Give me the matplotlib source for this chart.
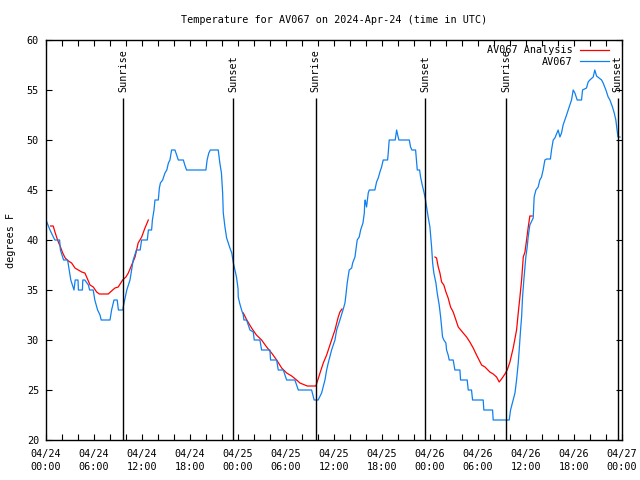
import matplotlib
matplotlib.use("Agg")
import matplotlib.pyplot as plt
from matplotlib.ticker import MultipleLocator

# ---- data (hours since 2024-04-24 00:00 UTC, degrees F) ----
obs_hours = [0.0, 0.5, 1.1, 1.7, 1.8, 2.2, 2.7, 2.9, 3.1, 3.5, 3.65, 4.0, 4.05, 4.55, 4.6, 4.85,
             5.3, 5.45, 5.9, 6.1, 6.45, 6.75, 6.9, 8.0, 8.2, 8.5, 8.9, 9.05, 9.6, 9.7, 10.1, 10.5,
             10.9, 11.3, 11.77, 11.95, 12.66, 12.8, 13.2, 13.3, 13.5, 13.62, 14.04, 14.17, 14.3,
             14.58, 14.87, 15.1, 15.3, 15.49, 15.7, 16.12, 16.33, 16.54, 17.17, 17.35, 17.57,
             19.99, 20.14, 20.35, 20.54, 21.53, 21.73, 21.93, 22.08, 22.16, 22.37, 22.58, 22.78,
             22.99, 23.22, 23.42, 23.62, 23.81, 24.01, 24.03, 24.2, 24.45, 24.66, 24.74, 25.07,
             25.29, 25.5, 25.91, 26.03, 26.74, 26.95, 27.99, 28.07, 28.83, 29.03, 29.66, 30.08,
             31.11, 31.54, 33.2, 33.52, 34.02, 34.45, 34.87, 35.08, 35.28, 35.7, 36.12, 36.33,
             36.74, 37.16, 37.37, 37.49, 37.65, 37.9, 38.21, 38.33, 38.62, 38.74, 38.87, 38.9,
             39.15, 39.33, 39.62, 39.79, 39.84, 39.9, 40.07, 40.28, 40.41, 41.11, 41.32, 41.53,
             41.74, 41.95, 42.15, 42.7, 42.78, 42.9, 43.65, 43.83, 43.96, 44.11, 45.41, 45.57,
             45.74, 46.2, 46.33, 46.41, 46.7, 46.82, 47.03, 47.24, 47.4, 47.57, 47.77, 47.99,
             48.2, 48.33, 48.48, 48.74, 48.9, 49.15, 49.33, 49.45, 49.57, 49.73, 49.99, 50.07,
             50.27, 50.4, 50.9, 51.11, 51.74, 51.82, 52.65, 52.78, 53.19, 53.32, 54.65, 54.73,
             55.82, 55.9, 57.9, 58.07, 58.4, 58.62, 58.82, 59.03, 59.15, 59.32, 59.45, 59.57,
             59.73, 59.98, 60.15, 60.27, 60.48, 60.9, 61.02, 61.24, 61.52, 61.73, 61.94, 62.14,
             62.36, 62.56, 63.05, 63.19, 63.4, 63.61, 64.02, 64.24, 64.44, 64.64, 64.86, 65.07,
             65.27, 65.48, 65.69, 65.9, 66.11, 66.4, 66.94, 67.07, 67.56, 67.77, 67.98, 68.4,
             68.6, 68.82, 69.45, 69.64, 69.99, 70.27, 70.49, 70.81, 71.03, 71.23, 71.38, 71.5,
             71.75]
obs_temps = [42, 41, 40, 40, 39, 38, 38, 37, 36, 35, 36, 36, 35, 35, 36, 36,
             35.5, 35, 35, 34, 33, 32.5, 32, 32, 33, 34, 34, 33, 33, 33.5, 35, 36,
             38, 39, 39, 40, 40, 41, 41, 42, 43, 44, 44, 45.2, 45.7,
             46, 46.7, 47, 47.7, 48, 49, 49, 48.5, 48, 48, 47.5, 47,
             47, 48, 48.7, 49, 49, 47.7, 46.7, 44.7, 42.7, 41.3, 40.2, 39.7,
             39.2, 38.7, 37.7, 37, 36.3, 35.1, 34.3, 33.7, 33, 32.5, 32, 32,
             31.5, 31, 30.8, 30, 30, 29, 29, 28, 28, 27, 27, 26,
             26, 25, 25, 24, 24, 24.7, 26, 27, 27.7, 29, 30, 31,
             32, 33.1, 33.7, 34.5, 35.7, 37, 37.2, 37.7, 38.3, 39, 39.7, 40,
             40.3, 41, 41.7, 42.7, 43.7, 44, 43.3, 44.7, 45, 45, 45.8, 46.2,
             46.8, 47.3, 48, 48, 48.7, 50, 50, 51, 50.5, 50, 50, 49.3,
             49, 49, 47.8, 47, 47, 46.3, 45.5, 44.8, 44.2, 43.3, 42.3, 41.3,
             39.3, 37.7, 36.7, 35.7, 34.7, 33.5, 32.3, 31.3, 30.3, 30, 29.7, 29,
             28.5, 28, 28, 27, 27, 26, 26, 25, 25, 24, 24, 23,
             23, 22, 22, 23, 24, 24.7, 26, 27.7, 29, 31, 32.3, 34.3,
             36, 38.3, 39.3, 40.3, 41.5, 42.2, 44.3, 45, 45.3, 46, 46.3, 47,
             48, 48.1, 48.1, 49, 50, 50.2, 51, 50.3, 50.7, 51.5, 52, 52.5,
             53, 53.5, 54, 55, 54.7, 54, 54, 55, 55.2, 55.8, 56, 56.3,
             57, 56.4, 56, 55.7, 55, 54.3, 54, 53.3, 52.7, 52, 51, 50.3,
             50.3]

ana1_hours = [0.58, 0.9, 1.12, 1.32, 1.54, 1.81, 2.09, 2.4, 2.8, 3.2, 3.62, 4.04, 4.46, 4.86,
              5.08, 5.5, 5.91, 6.33, 6.67, 7.79, 8.05, 8.62, 9.03, 9.58, 9.99, 10.29, 10.71,
              11.13, 11.52, 11.96, 12.37, 12.79]
ana1_temps = [41.4, 41.4, 40.8, 40.3, 39.8, 39.3, 38.7, 38.2, 37.9, 37.7, 37.2, 37.0, 36.8, 36.7,
              36.3, 35.5, 35.3, 34.8, 34.6, 34.6, 34.8, 35.2, 35.3, 36.0, 36.3, 36.7, 37.5,
              38.3, 39.7, 40.3, 41.2, 42.0]
ana2_hours = [24.66, 25.1, 25.7, 26.3, 26.95, 27.58, 28.2, 28.83, 29.46, 30.08, 30.71, 31.32,
              31.74, 32.66, 33.74, 34.25, 34.66, 35.08, 35.7, 36.12, 36.53, 36.74, 37.0]
ana2_temps = [32.7, 32.0, 31.2, 30.5, 30.0, 29.3, 28.7, 28.0, 27.2, 26.7, 26.4, 26.0,
              25.7, 25.4, 25.4, 26.7, 27.7, 28.5, 30.0, 31.0, 32.3, 32.8, 33.1]
ana3_hours = [48.62, 48.82, 49.03, 49.24, 49.45, 49.73, 49.99, 50.27, 50.57, 50.9, 51.24, 51.53,
              51.74, 52.15, 52.57, 52.98, 53.4, 53.82, 54.45, 54.87, 55.48, 55.9, 56.32, 56.65,
              56.94, 57.37, 57.65, 57.99, 58.4, 58.82, 59.03, 59.24, 59.45, 59.66, 59.87, 60.07,
              60.28, 60.48, 60.77]
ana3_temps = [38.3, 38.2, 37.3, 36.7, 35.8, 35.5, 34.8, 34.2, 33.3, 32.8, 32.0, 31.3,
              31.1, 30.7, 30.3, 29.8, 29.2, 28.5, 27.5, 27.3, 26.8, 26.6, 26.3, 25.8,
              26.1, 26.6, 27.0, 27.8, 29.2, 31.0, 32.7, 34.3, 36.0, 38.3, 38.8, 40.0,
              41.3, 42.4, 42.4]

sun_hours = [9.66, 23.41, 33.7, 47.43, 57.55, 71.44]
sun_labels = ["Sunrise", "Sunset", "Sunrise", "Sunset", "Sunrise", "Sunset"]

xtick_hours = [0, 6, 12, 18, 24, 30, 36, 42, 48, 54, 60, 66, 72]
xtick_labels = ["04/24\n00:00", "04/24\n06:00", "04/24\n12:00", "04/24\n18:00",
                "04/25\n00:00", "04/25\n06:00", "04/25\n12:00", "04/25\n18:00",
                "04/26\n00:00", "04/26\n06:00", "04/26\n12:00", "04/26\n18:00",
                "04/27\n00:00"]
ytick_vals = [20, 25, 30, 35, 40, 45, 50, 55, 60]

title = "Temperature for AV067 on 2024-Apr-24 (time in UTC)"

# ---- plot ----
FS = 7.3
plt.rcParams['font.family'] = ['DejaVu Sans Mono']
plt.rcParams['font.size'] = FS

fig = plt.figure(figsize=(6.4, 4.8), dpi=100)
ax = fig.add_axes([46/640, 1-440/480, 576/640, 400/480])

red = '#ff0000'
blue = '#0f80f0'
lw = 0.9

ax.plot(ana1_hours, ana1_temps, color=red, lw=lw, label='AV067 Analysis')
ax.plot(ana2_hours, ana2_temps, color=red, lw=lw)
ax.plot(ana3_hours, ana3_temps, color=red, lw=lw)
ax.plot(obs_hours, obs_temps, color=blue, lw=lw, label='AV067')

for h, lab in zip(sun_hours, sun_labels):
    ax.vlines(h, 20, 54.2, color='black', lw=1.0)
    ax.text(h, 54.75, lab, rotation=90, ha='center', va='bottom', fontsize=FS, clip_on=False)

ax.set_xlim(0, 72)
ax.set_ylim(20, 60)
ax.set_xticks(xtick_hours)
ax.set_xticklabels(xtick_labels, linespacing=1.4)
ax.xaxis.set_minor_locator(MultipleLocator(2))
ax.set_yticks(ytick_vals)
ax.tick_params(which='both', direction='in', top=True, right=True, length=4, width=0.8)
ax.tick_params(axis='x', pad=6.5)
ax.tick_params(axis='y', pad=5)
for s in ax.spines.values():
    s.set_linewidth(1.0)

ax.set_ylabel('degrees F', labelpad=8)
fig.text(334/640, 1-20/480, title, ha='center', va='center', fontsize=FS)

leg = ax.legend(loc='upper right', frameon=False, markerfirst=False, handlelength=2.9,
                handletextpad=0.7, labelspacing=0.15, borderaxespad=0.3,
                bbox_to_anchor=(1-6/576, 1.0 + 2/400), fontsize=FS)

fig.savefig('out.png', dpi=100)
